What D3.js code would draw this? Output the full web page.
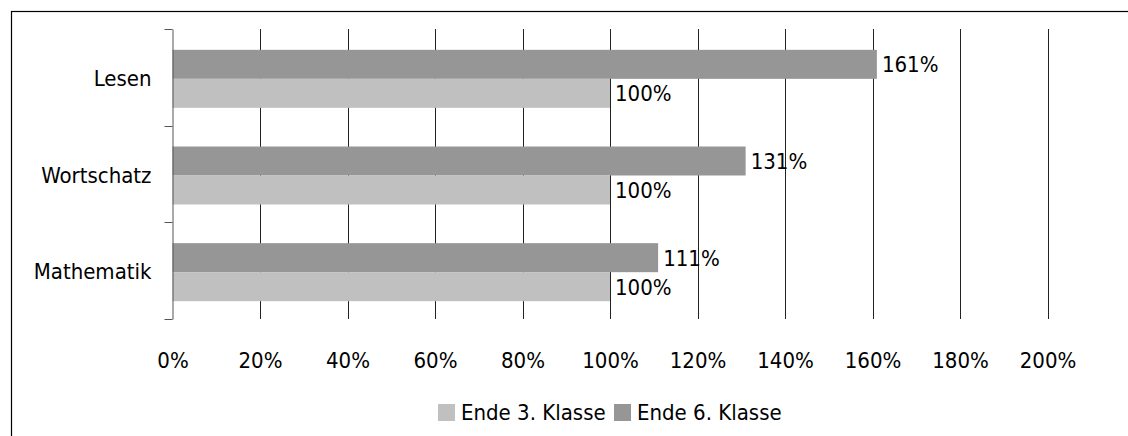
<!DOCTYPE html>
<html>
<head>
<meta charset="utf-8">
<script src="https://cdn.jsdelivr.net/npm/d3@7"></script>
<style>
  body { margin: 0; background: #fff; }
  text { font-family: "DejaVu Sans Condensed", "DejaVu Sans", sans-serif; font-stretch: condensed; fill: #000; }
</style>
</head>
<body>
<script>
const categories = ["Lesen", "Wortschatz", "Mathematik"];
const series = ["Ende 6. Klasse", "Ende 3. Klasse"];
const ende3 = [100, 100, 100];
const ende6 = [161, 131, 111];
const tickValues = [0, 20, 40, 60, 80, 100, 120, 140, 160, 180, 200];

const colors = { "Ende 3. Klasse": "#c0c0c0", "Ende 6. Klasse": "#969696" };
const fs = 22;

const width = 1128, height = 436;
const svg = d3.select("body").append("svg")
    .attr("width", width).attr("height", height);

// outer frame (runs off the right and bottom edge)
svg.append("rect")
    .attr("x", 11.5).attr("y", 11.5)
    .attr("width", 1130).attr("height", 440)
    .attr("fill", "none").attr("stroke", "#000").attr("stroke-width", 1.2);

const x = d3.scaleLinear().domain([0, 200]).range([172.5, 1047.5]);
const y = d3.scaleBand().domain(categories).range([29, 319]).padding(0);
const groupH = y.bandwidth() * 0.6;
const ySub = d3.scaleBand().domain(series).range([0, groupH]);

// gridlines
svg.append("g").selectAll("line").data(tickValues.slice(1)).enter().append("line")
    .attr("x1", d => Math.round(x(d)) + 0.5).attr("x2", d => Math.round(x(d)) + 0.5)
    .attr("y1", 29).attr("y2", 319)
    .attr("stroke", "#222").attr("stroke-width", 1);

// bars
const rows = categories.map((c, i) => ({ cat: c, values: [
    { s: "Ende 6. Klasse", v: ende6[i] },
    { s: "Ende 3. Klasse", v: ende3[i] }
]}));

const groups = svg.append("g").selectAll("g").data(rows).enter().append("g")
    .attr("transform", d => "translate(0," + (y(d.cat) + (y.bandwidth() - groupH) / 2 + 1.5) + ")");

groups.selectAll("rect").data(d => d.values).enter().append("rect")
    .attr("x", x(0))
    .attr("y", d => ySub(d.s))
    .attr("width", d => x(d.v) - x(0))
    .attr("height", ySub.bandwidth())
    .attr("fill", d => colors[d.s]);

groups.selectAll("text").data(d => d.values).enter().append("text")
    .attr("x", d => x(d.v) + 5)
    .attr("y", d => ySub(d.s) + ySub.bandwidth() / 2)
    .attr("dy", "0.36em")
    .attr("font-size", fs)
    .text(d => d.v + "%");

// y axis
const yAxis = d3.axisLeft(y).tickSize(0).tickPadding(21);
const gy = svg.append("g").attr("transform", "translate(" + x(0) + ",0)").call(yAxis);
gy.select(".domain").attr("stroke", "#555");
gy.selectAll("text").attr("font-size", fs).attr("dy", "0.4em");
// boundary tick marks
svg.append("g").selectAll("line")
    .data(d3.range(categories.length + 1))
    .enter().append("line")
    .attr("x1", x(0) - 8).attr("x2", x(0))
    .attr("y1", i => Math.round(29 + i * y.step()) + 0.5)
    .attr("y2", i => Math.round(29 + i * y.step()) + 0.5)
    .attr("stroke", "#555");

// x axis labels
const xAxis = d3.axisBottom(x).tickValues(tickValues).tickSize(0).tickPadding(0)
    .tickFormat(d => d + "%");
const gx = svg.append("g").attr("transform", "translate(0,360)").call(xAxis);
gx.select(".domain").remove();
gx.selectAll("text").attr("font-size", fs).attr("dy", "0.36em");

// legend
const legendItems = ["Ende 3. Klasse", "Ende 6. Klasse"];
const legendX = [438, 614];
const lg = svg.append("g").selectAll("g").data(legendItems).enter().append("g")
    .attr("transform", (d, i) => "translate(" + legendX[i] + ",404)");
lg.append("rect").attr("width", 17).attr("height", 17).attr("fill", d => colors[d]);
lg.append("text").attr("x", 23).attr("y", 16).attr("font-size", fs).text(d => d);
</script>
</body>
</html>
